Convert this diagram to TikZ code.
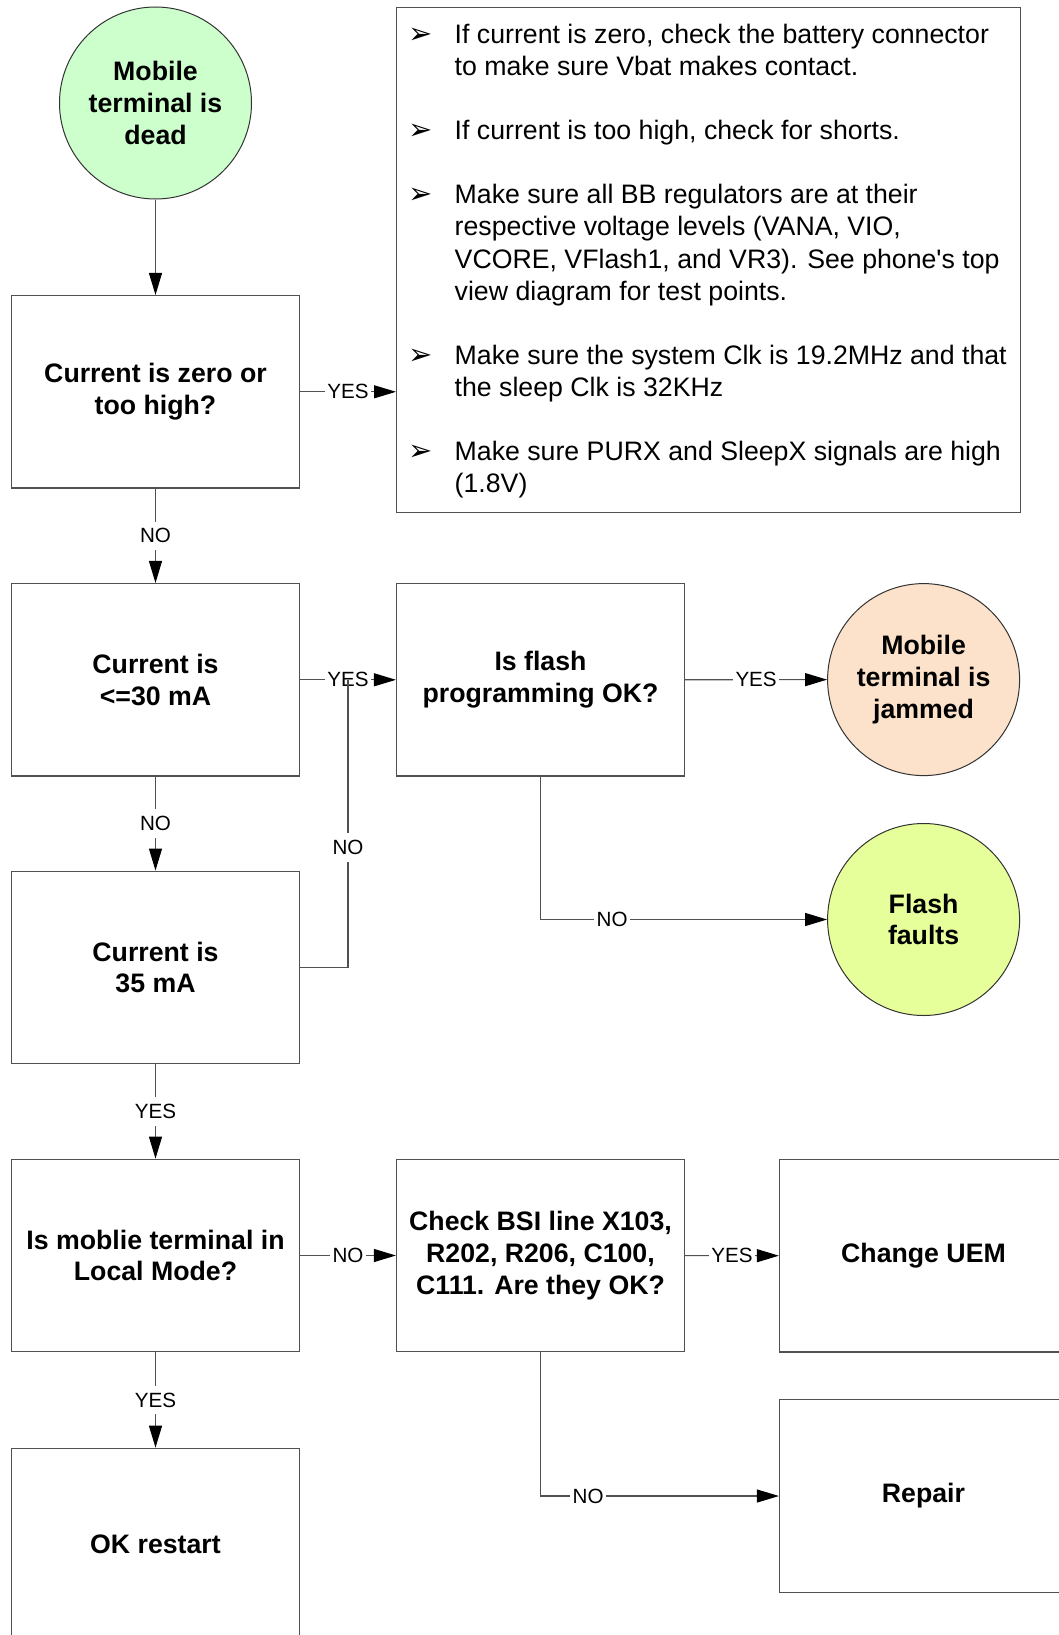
\documentclass[tikz,border=0pt]{standalone}
\usepackage{fontspec}
\setmainfont{Liberation Sans}
\newfontfamily\symfont{DejaVu Sans}
\usetikzlibrary{arrows.meta,calc}

\definecolor{deadfill}{RGB}{204,255,204}
\definecolor{jamfill}{RGB}{252,226,202}
\definecolor{faultfill}{RGB}{230,255,155}
\definecolor{edgegray}{RGB}{80,80,80}

\newcommand\boldtext{\fontsize{26.7}{31.7}\selectfont\bfseries}
\newcommand\notebul{\makebox[45.9pt][l]{\raisebox{0pt}{\symfont\fontsize{29}{29}\selectfont ➢}}}
\newcommand\noteind{\hspace*{45.9pt}}

\tikzset{
  box/.style={draw=edgegray, line width=1.2pt, minimum width=288pt,
    minimum height=192.5pt, inner sep=0pt, align=center, font=\boldtext},
  endcircle/.style={circle, draw=black!80, line width=1pt, minimum size=192pt,
    inner sep=0pt, align=center, font=\boldtext},
  link/.style={draw=edgegray, line width=1.1pt},
  conn/.style={link, -{Triangle[length=22pt,width=13pt,color=black]}},
  lbl/.style={fill=white, text=black, font=\fontsize{20.6}{24}\selectfont,
    inner xsep=2.5pt, inner ysep=7pt}
}

\begin{document}
\begin{tikzpicture}[x=1pt,y=-1pt]
\useasboundingbox (0,0) rectangle (1058,1635);
\fill[white] (0,0) rectangle (1058,1635);

% main column
\node[endcircle, fill=deadfill] (dead) at (155.5,103) {Mobile\\terminal is\\dead};
\node[box] (zero)  at (155.5,391.8)  {Current is zero or\\too high?};
\node[box] (low)   at (155.5,679.8)  {Current is\\<=30 mA};
\node[box] (mid)   at (155.5,967.4)  {Current is\\35 mA};
\node[box] (local) at (155.5,1255.5) {Is moblie terminal in\\Local Mode?};
\node[box] (okrs)  at (155.5,1544.5) {OK restart};

% second and third columns
\node[box] (flash) at (540.5,679.8) {Is flash\\programming OK?};
\node[endcircle, fill=jamfill]   (jam)    at (923.6,679.6) {Mobile\\terminal is\\jammed};
\node[endcircle, fill=faultfill] (faults) at (923.6,919.5) {Flash\\faults};
\node[box] (bsi)    at (540.5,1255.5) {Check BSI line X103,\\R202, R206, C100,\\C111. Are they OK?};
\node[box] (uem)    at (923.5,1255.8) {Change UEM};
\node[box] (repair) at (923.5,1496)   {Repair};

% checklist panel
\node[draw=edgegray, line width=1.2pt, anchor=north west, minimum width=624pt,
  minimum height=504.5pt, inner sep=0pt] (notes) at (396,7.3) {};
\node[anchor=base west, inner sep=0pt, font=\fontsize{26.7}{32.1}\selectfont]
  (notetext) at (408.6,43.4) {%
  \begin{tabular}[t]{@{}l@{}}
  \notebul If current is zero, check the battery connector\\
  \noteind to make sure Vbat makes contact.\\[32.1pt]
  \notebul If current is too high, check for shorts.\\[32.1pt]
  \notebul Make sure all BB regulators are at their\\
  \noteind respective voltage levels (VANA, VIO,\\
  \noteind VCORE, VFlash1, and VR3). See phone\textquotesingle s top\\
  \noteind view diagram for test points.\\[32.1pt]
  \notebul Make sure the system Clk is 19.2MHz and that\\
  \noteind the sleep Clk is 32KHz\\[32.1pt]
  \notebul Make sure PURX and SleepX signals are high\\
  \noteind (1.8V)
  \end{tabular}};

% connectors
\draw[conn] (dead) -- (zero);
\draw[conn] (zero.east) -- node[lbl]{YES} (zero.east -| notes.west);
\draw[conn] (zero) -- node[lbl]{NO} (low);
\draw[conn] (low) -- node[lbl]{YES} (flash);
\coordinate (join) at ($(low.east)!0.5!(flash.west)$);
\draw[conn] (flash) -- node[lbl]{YES} (jam);
\draw[conn] (flash.south) |- node[lbl, pos=0.625]{NO} (faults.west);
\draw[conn] (low) -- node[lbl]{NO} (mid);
\draw[link] (mid.east) -| node[lbl, pos=0.708]{NO} (join);
\draw[conn] (mid) -- node[lbl]{YES} (local);
\draw[conn] (local) -- node[lbl]{NO} (bsi);
\draw[conn] (bsi) -- node[lbl]{YES} (uem);
\draw[conn] (bsi.south) |- node[lbl, pos=0.6]{NO} (repair.west);
\draw[conn] (local) -- node[lbl]{YES} (okrs);
\end{tikzpicture}
\end{document}
